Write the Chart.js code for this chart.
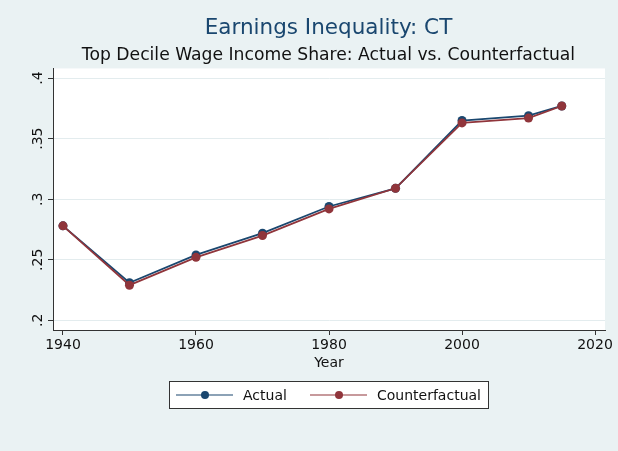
<!DOCTYPE html>
<html>
<head>
<meta charset="utf-8">
<script src="https://cdn.jsdelivr.net/npm/chart.js@4"></script>
<style>
  html, body { margin: 0; padding: 0; background: #eaf2f3; }
  #wrap { width: 618px; height: 451px; }
</style>
</head>
<body>
<div id="wrap"><canvas id="myChart" width="618" height="451"></canvas></div>
<script>
// data
const years = [1940, 1950, 1960, 1970, 1980, 1990, 2000, 2010, 2015];
const actual = [0.278, 0.231, 0.254, 0.272, 0.294, 0.309, 0.365, 0.369, 0.377];
const counterfactual = [0.278, 0.229, 0.252, 0.270, 0.292, 0.309, 0.363, 0.367, 0.377];
const xTicks = [1940, 1960, 1980, 2000, 2020];
const yTicks = [0.2, 0.25, 0.3, 0.35, 0.4];

const navy = '#1a476f';
const maroon = '#90353b';
const font = 'DejaVu Sans';

function pts(ys) {
    return years.map((yr, i) => ({ x: yr, y: ys[i] }));
}

function yLabel(v) {
    return String(+v.toFixed(2)).replace(/^0/, '');
}

// vertical y tick labels, placed through the y scale
const yLabels = {
    id: 'yLabels',
    afterDraw(chart) {
        const ctx = chart.ctx;
        const sc = chart.scales.y;
        ctx.save();
        ctx.font = '14px "' + font + '"';
        ctx.fillStyle = '#111111';
        ctx.textAlign = 'center';
        ctx.textBaseline = 'middle';
        yTicks.forEach(v => {
            const py = sc.getPixelForValue(v);
            ctx.save();
            ctx.translate(sc.right - 15, py);
            ctx.rotate(-Math.PI / 2);
            ctx.fillText(yLabel(v), 0, 0);
            ctx.restore();
        });
        ctx.restore();
    }
};

// Stata style legend box under the plot
const boxLegend = {
    id: 'boxLegend',
    afterDraw(chart) {
        const ctx = chart.ctx;
        const a = chart.chartArea;
        const cx = (a.left + a.right) / 2;
        const top = 381, h = 28, w = 320;
        const left = cx - w / 2;
        const midY = top + h / 2;
        ctx.save();
        ctx.fillStyle = '#ffffff';
        ctx.fillRect(left, top, w, h);
        ctx.strokeStyle = '#333333';
        ctx.lineWidth = 1;
        ctx.strokeRect(left + 0.5, top + 0.5, w - 1, h - 1);
        ctx.font = '14px "' + font + '"';
        ctx.textBaseline = 'middle';
        ctx.textAlign = 'left';
        const items = [
            { x: left + 7, ds: chart.data.datasets[0] },
            { x: left + 141, ds: chart.data.datasets[1] }
        ];
        items.forEach(it => {
            ctx.strokeStyle = it.ds.borderColor;
            ctx.lineWidth = 1.2;
            ctx.beginPath();
            ctx.moveTo(it.x, midY);
            ctx.lineTo(it.x + 57, midY);
            ctx.stroke();
            ctx.fillStyle = it.ds.backgroundColor;
            ctx.beginPath();
            ctx.arc(it.x + 29, midY, 4, 0, Math.PI * 2);
            ctx.fill();
            ctx.fillStyle = '#111111';
            ctx.fillText(it.ds.label, it.x + 67, midY + 1);
        });
        ctx.restore();
    }
};

const plotBg = {
    id: 'plotBg',
    beforeDraw(chart) {
        const ctx = chart.ctx;
        const a = chart.chartArea;
        ctx.save();
        ctx.fillStyle = '#eaf2f3';
        ctx.fillRect(0, 0, chart.width, chart.height);
        ctx.fillStyle = '#ffffff';
        ctx.fillRect(a.left, a.top, a.right - a.left, a.bottom - a.top);
        ctx.restore();
    }
};

const config = {
    type: 'line',
    data: {
        datasets: [
            {
                label: 'Actual',
                data: pts(actual),
                borderColor: navy,
                backgroundColor: navy,
                borderWidth: 1.8,
                pointRadius: 4.5,
                pointBorderWidth: 0,
                tension: 0,
                order: 1
            }, {
                label: 'Counterfactual',
                data: pts(counterfactual),
                borderColor: maroon,
                backgroundColor: maroon,
                borderWidth: 1.8,
                pointRadius: 4.5,
                pointBorderWidth: 0,
                tension: 0,
                order: 0
            }
        ]
    },
    options: {
        responsive: false,
        animation: false,
        events: [],
        // left padding keeps the titles centred over the plot region
        layout: {
            padding: { left: 52, right: 13, top: 0, bottom: 76 }
        },
        plugins: {
            legend: { display: false },
            tooltip: { enabled: false },
            title: {
                display: true,
                text: 'Earnings Inequality: CT',
                color: navy,
                font: { family: font, size: 21.5, weight: 'normal' },
                padding: { top: 16, bottom: 0 }
            },
            subtitle: {
                display: true,
                text: 'Top Decile Wage Income Share: Actual vs. Counterfactual',
                color: '#111111',
                font: { family: font, size: 17.2, weight: 'normal' },
                padding: { top: 3, bottom: 3 }
            }
        },
        scales: {
            x: {
                type: 'linear',
                min: 1938.5,
                max: 2021.5,
                afterBuildTicks(scale) {
                    scale.ticks = xTicks.map(v => ({ value: v }));
                },
                afterFit(scale) { scale.height = 45; },
                ticks: {
                    color: '#111111',
                    font: { family: font, size: 14 },
                    padding: 2,
                    maxRotation: 0,
                    callback: v => String(v)
                },
                grid: {
                    drawOnChartArea: false,
                    drawTicks: true,
                    tickLength: 5,
                    tickColor: '#333333',
                    tickWidth: 1
                },
                border: { color: '#333333', width: 1 },
                title: {
                    display: true,
                    text: 'Year',
                    color: '#111111',
                    font: { family: font, size: 14 },
                    padding: { top: 0, bottom: 3 }
                }
            },
            y: {
                min: 0.192,
                max: 0.408,
                afterBuildTicks(scale) {
                    scale.ticks = yTicks.map(v => ({ value: v }));
                },
                afterFit(scale) { scale.width = 1; },
                ticks: { display: false },
                grid: {
                    color: '#e3ecee',
                    lineWidth: 1,
                    drawTicks: true,
                    tickLength: 5,
                    tickColor: '#333333',
                    tickWidth: 1
                },
                border: { color: '#333333', width: 1 }
            }
        }
    },
    plugins: [plotBg, yLabels, boxLegend]
};

const ctx = document.getElementById('myChart').getContext('2d');
new Chart(ctx, config);
</script>
</body>
</html>
